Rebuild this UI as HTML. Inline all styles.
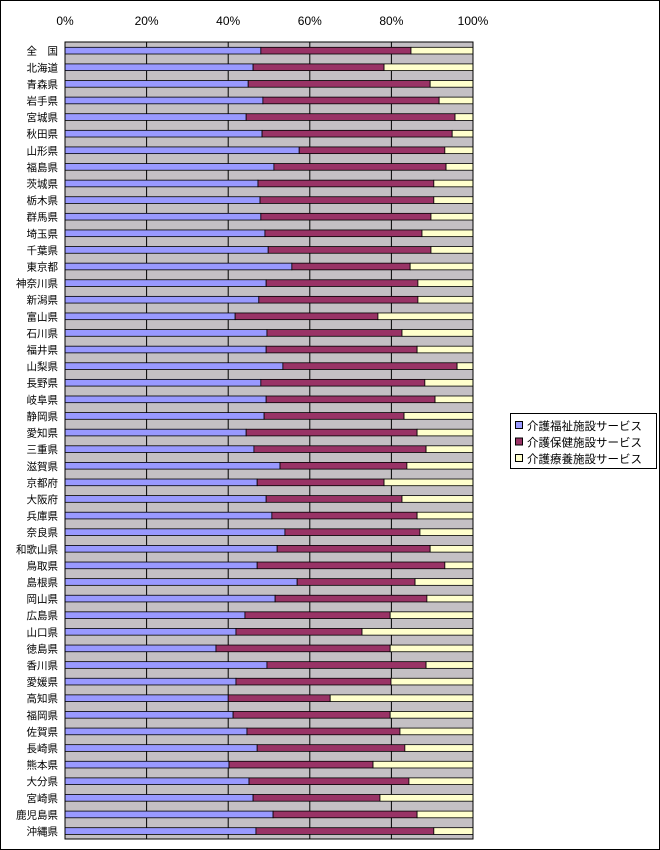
<!DOCTYPE html>
<html><head><meta charset="utf-8"><style>
body{margin:0;background:#fff;}
#wrap{position:relative;width:658px;height:848px;border:1px solid #000;overflow:hidden;font-family:"Liberation Sans","Noto Sans CJK JP",sans-serif;}
svg text{font-family:"Liberation Sans","Noto Sans CJK JP",sans-serif;}
</style></head><body>
<div id="wrap">
<svg id="chart" width="660" height="850" style="position:absolute;left:-1px;top:-1px"></svg>
</div>
<script>
const categories=["全　国","北海道","青森県","岩手県","宮城県","秋田県","山形県","福島県","茨城県","栃木県","群馬県","埼玉県","千葉県","東京都","神奈川県","新潟県","富山県","石川県","福井県","山梨県","長野県","岐阜県","静岡県","愛知県","三重県","滋賀県","京都府","大阪府","兵庫県","奈良県","和歌山県","鳥取県","島根県","岡山県","広島県","山口県","徳島県","香川県","愛媛県","高知県","福岡県","佐賀県","長崎県","熊本県","大分県","宮崎県","鹿児島県","沖縄県"];
const welfare=[48.0,46.1,44.9,48.5,44.4,48.3,57.4,51.2,47.3,47.8,48.0,49.0,49.8,55.6,49.3,47.5,41.7,49.5,49.3,53.4,48.0,49.3,48.8,44.4,46.3,52.7,47.1,49.3,50.7,53.9,52.0,47.1,56.9,51.5,44.1,41.9,37.0,49.5,41.9,40.0,41.2,44.6,47.1,40.2,45.1,46.1,51.0,46.8];
const health=[36.8,32.1,44.6,43.2,51.2,46.6,35.7,42.2,43.1,42.6,41.7,38.5,39.9,29.0,37.2,39.0,35.0,33.1,37.0,42.7,40.2,41.4,34.3,41.9,42.2,31.1,31.1,33.3,35.6,33.1,37.5,46.0,28.9,37.2,35.6,30.9,42.7,39.0,38.0,25.0,38.5,37.5,36.2,35.3,39.2,31.1,35.3,43.6];
const care=[15.2,21.8,10.5,8.3,4.4,5.1,6.9,6.6,9.6,9.6,10.3,12.5,10.3,15.4,13.5,13.5,23.3,17.4,13.7,3.9,11.8,9.3,16.9,13.7,11.5,16.2,21.8,17.4,13.7,13.0,10.5,6.9,14.2,11.3,20.3,27.2,20.3,11.5,20.1,35.0,20.3,17.9,16.7,24.5,15.7,22.8,13.7,9.6];
const ticks=["0%","20%","40%","60%","80%","100%"];
const seriesNames=["介護福祉施設サービス","介護保健施設サービス","介護療養施設サービス"];
const colors=["#9999ff","#993366","#ffffcc"];
const NS="http://www.w3.org/2000/svg";
const svg=document.getElementById('chart');
const X0=65,X1=473,Y0=42,Y1=839;
const pitch=(Y1-Y0)/categories.length;
const xs=v=>X0+(X1-X0)*v/100;
function mk(t,a){const e=document.createElementNS(NS,t);for(const k in a)e.setAttribute(k,a[k]);svg.appendChild(e);return e;}
const bg=mk('rect',{x:X0,y:Y0,width:X1-X0,height:Y1-Y0,fill:'#c4c0c4'});


ticks.forEach((t,i)=>{const x=xs(i*20);
 const g=mk('line',{x1:x,y1:Y0,x2:x,y2:Y1,stroke:'#000','stroke-width':1});
 
 
 const tx=mk('text',{x:x,y:25,'font-size':12,'text-anchor':'middle'});tx.textContent=t;
 
 
});
categories.forEach((c,i)=>{
 const top=Y0+i*pitch;
 const by=top+5.3,bh=6.7;
 const vals=[welfare[i],health[i],care[i]];
 let acc=0;
 vals.forEach((v,s)=>{
  const r=mk('rect',{x:xs(acc),y:by,width:xs(acc+v)-xs(acc),height:bh,fill:colors[s],stroke:'#000','stroke-width':0.8});
  
  
  acc+=v;
 });
 const t=mk('text',{x:58,y:by+bh/2+4,'font-size':10.5,'text-anchor':'end'});t.textContent=c;
 
 
});
const fr=mk('rect',{x:X0,y:Y0,width:X1-X0,height:Y1-Y0,fill:'none',stroke:'#000','stroke-width':1});


const lg=mk('rect',{x:510.5,y:413.5,width:146,height:55,fill:'#fff',stroke:'#000','stroke-width':1});


seriesNames.forEach((n,i)=>{
 const y=420+i*16.5;
 const sw=mk('rect',{x:515.5,y:y+1.5,width:7,height:7,fill:colors[i],stroke:'#000','stroke-width':1});
 
 
 const t=mk('text',{x:527,y:y+10,'font-size':11.5});t.textContent=n;
 
 
});
</script>
</body></html>
